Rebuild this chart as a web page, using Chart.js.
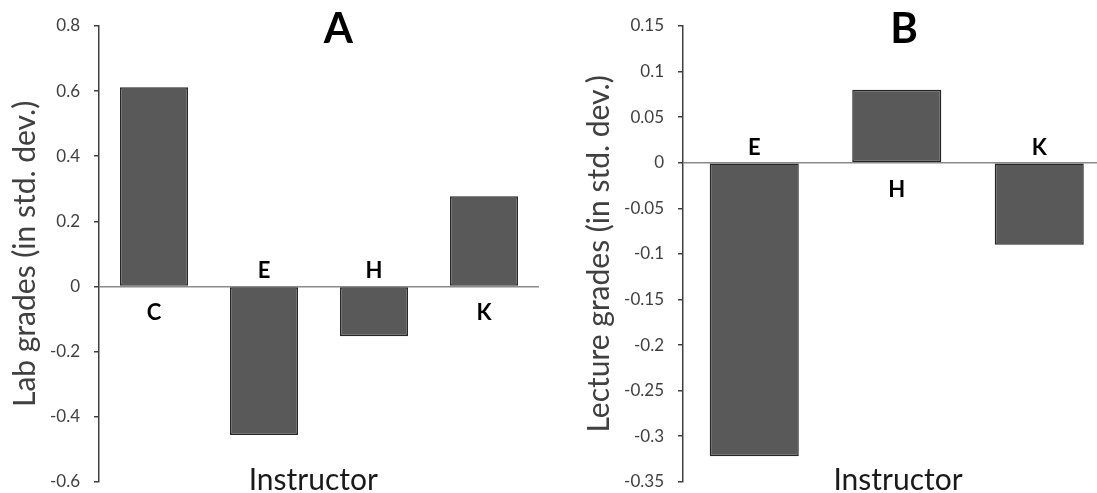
<!DOCTYPE html>
<html>
<head>
<meta charset="utf-8">
<script src="https://cdn.jsdelivr.net/npm/chart.js@4"></script>
<style>
    html, body { margin: 0; padding: 0; background: #fff; overflow: hidden; width: 1097px; height: 493px; }
    .panel { position: absolute; top: 0; height: 506px; }
    #panelA { left: 0; width: 550px; }
    #panelB { left: 550px; width: 570px; }
</style>
</head>
<body>
<div class="panel" id="panelA"><canvas id="chartA"></canvas></div>
<div class="panel" id="panelB"><canvas id="chartB"></canvas></div>
<script>
// Panel A - lab grades
const labInstructors = ['C', 'E', 'H', 'K']
const labGrades = [0.612, -0.456, -0.153, 0.277]
const labAxis = { min: -0.6, max: 0.8, step: 0.2 }

// Panel B - lecture grades
const lectureInstructors = ['E', 'H', 'K']
const lectureGrades = [-0.322, 0.08, -0.09]
const lectureAxis = { min: -0.35, max: 0.15, step: 0.05 }

const FONT = "Lato, 'Open Sans', sans-serif"

// letters next to the bars, panel letter and the "Instructor" caption
const annotatePlugin = {
    id: 'annotate',
    afterDraw(chart, args, opts) {
        const ctx = chart.ctx
        const area = chart.chartArea
        const zero = chart.scales.y.getPixelForValue(0)
        const values = chart.data.datasets[0].data
        ctx.save()
        ctx.fillStyle = '#000'
        ctx.textAlign = 'center'
        ctx.textBaseline = 'alphabetic'
        ctx.font = 'bold 22px ' + FONT
        chart.getDatasetMeta(0).data.forEach((bar, i) => {
            const y = values[i] >= 0 ? zero + 34 : zero - 8
            ctx.fillText(chart.data.labels[i], bar.x, y)
        })
        ctx.font = 'bold 42px ' + FONT
        ctx.fillText(opts.letter, area.left + opts.letterPos * area.width, 43)
        ctx.fillStyle = '#1a1a1a'
        ctx.font = '30px ' + FONT
        ctx.fillText('Instructor', area.left + opts.captionPos * area.width, 490)
        ctx.restore()
    },
}

function makePanel(canvasId, labels, values, axis, cfg) {
    return new Chart(document.getElementById(canvasId), {
        type: 'bar',
        data: {
            labels: labels,
            datasets: [
                {
                    data: values,
                    backgroundColor: '#595959',
                    borderColor: '#262626',
                    borderWidth: 1.5,
                    borderSkipped: false,
                    categoryPercentage: 1,
                    barPercentage: cfg.barPct,
                },
            ],
        },
        plugins: [annotatePlugin],
        options: {
            responsive: true,
            maintainAspectRatio: false,
            animation: false,
            layout: {
                padding: { left: 0, top: 26, right: cfg.padRight, bottom: 11 },
            },
            plugins: {
                legend: { display: false },
                tooltip: { enabled: false },
                annotate: { letter: cfg.letter, letterPos: cfg.letterPos, captionPos: cfg.captionPos },
            },
            scales: {
                x: { display: false },
                y: {
                    min: axis.min,
                    max: axis.max,
                    afterFit: (scale) => {
                        scale.width = cfg.axisWidth
                    },
                    ticks: {
                        stepSize: axis.step,
                        padding: 14,
                        color: '#404040',
                        font: { family: FONT, size: 17 },
                        callback: (v) => String(Number(v.toFixed(2))),
                    },
                    grid: {
                        color: (c) => (c.tick && c.tick.value === 0 ? '#8a8a8a' : 'rgba(0,0,0,0)'),
                        lineWidth: 1.5,
                        tickColor: '#404040',
                        tickLength: 5,
                    },
                    border: { display: true, color: '#404040', width: 1.5 },
                    title: {
                        display: true,
                        text: cfg.yTitle,
                        color: '#404040',
                        font: { family: FONT, size: 30 },
                        padding: { top: cfg.titlePad, bottom: 0 },
                    },
                },
            },
        },
    })
}

makePanel('chartA', labInstructors, labGrades, labAxis, {
    barPct: 0.618,
    padRight: 11,
    axisWidth: 99,
    titlePad: 7,
    yTitle: 'Lab grades (in std. dev.)',
    letter: 'A',
    letterPos: 0.544,
    captionPos: 0.487,
})

makePanel('chartB', lectureInstructors, lectureGrades, lectureAxis, {
    barPct: 0.625,
    padRight: 9.5,
    axisWidth: 133,
    titlePad: 31,
    yTitle: 'Lecture grades (in std. dev.)',
    letter: 'B',
    letterPos: 0.517,
    captionPos: 0.503,
})
</script>
</body>
</html>
